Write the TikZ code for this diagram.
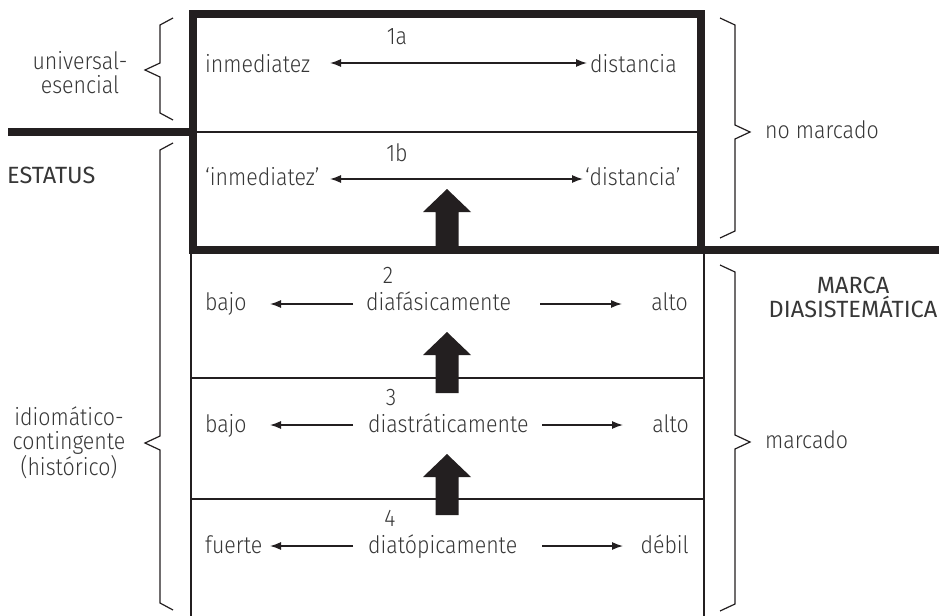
\documentclass[tikz,border=0pt]{standalone}
\usepackage{fontspec}
\setmainfont{Fira Sans Light}[FakeStretch=0.89]
\newfontfamily\headfont{Fira Sans}
\usetikzlibrary{arrows.meta}

\definecolor{ink}{RGB}{35,31,32}
\definecolor{txt}{RGB}{55,55,55}

\tikzset{
  rule/.style={line width=8pt, ink},
  thinrule/.style={line width=1.3pt, ink},
  braceline/.style={line width=1.2pt, ink, line join=miter},
  lbl/.style={inner sep=0pt, text=txt, font=\fontsize{24}{24}\selectfont},
  headlbl/.style={lbl, font=\headfont\fontsize{23.5}{24}\selectfont},
  pole/.style={line width=1.3pt, ink, -{Latex[length=11pt,width=8pt]}},
  bothpoles/.style={line width=1.3pt, ink, {Latex[length=11pt,width=8pt]}-{Latex[length=11pt,width=8pt]}},
}

% big upward arrow: #1 = axis x, #2 = foot y
\newcommand{\upshift}[2]{%
  \fill[ink] ({#1-11.5},#2) -- ({#1-11.5},{#2-38}) -- ({#1-24},{#2-38}) -- (#1,{#2-61})
     -- ({#1+24},{#2-38}) -- ({#1+11.5},{#2-38}) -- ({#1+11.5},#2) -- cycle;}

% brace: #1 = stem x, #2 = hook x, #3 = tip x, #4 = top, #5 = bottom, #6 = tip y
\newcommand{\curly}[6]{%
  \draw[braceline] (#2,#4) -- (#1,{#4+7}) -- (#1,{#6-7}) -- (#3,#6)
     -- (#1,{#6+7}) -- (#1,{#5-7}) -- (#2,#5);}

\begin{document}
\begin{tikzpicture}[x=1pt,y=-1pt]
  \useasboundingbox (0,0) rectangle (943,616);

  % lower (marked) levels
  \draw[thinrule] (191,250) -- (191,616);
  \draw[thinrule] (704,250) -- (704,616);
  \draw[thinrule] (191,378) -- (704,378);
  \draw[thinrule] (191,499) -- (704,499);
  \draw[thinrule] (193,132) -- (701,132);

  % big arrows between levels
  \upshift{447}{250}
  \upshift{447}{393}
  \upshift{447}{515}

  % unmarked box and the two borders
  \draw[rule] (193,13.5) rectangle (701,250);
  \draw[rule] (8,132) -- (193,132);
  \draw[rule] (701,250) -- (939,250);

  % 1a
  \node[lbl] (n1a) at (397,37) {1a};
  \node[lbl,anchor=base west] (inm) at (205,72) {inmediatez};
  \node[lbl,anchor=base west] (dist) at (590,72) {distancia};
  \coordinate (a1w) at (330,63);
  \coordinate (a1e) at (587,63);
  \draw[bothpoles] (a1w) -- (a1e);

  % 1b
  \node[lbl] (n1b) at (397,153) {1b};
  \node[lbl,anchor=base west] (inmq) at (205,185) {‘inmediatez’};
  \node[lbl,anchor=base west] (distq) at (585,185) {‘distancia’};
  \coordinate (b1w) at (330,179);
  \coordinate (b1e) at (583,179);
  \draw[bothpoles] (b1w) -- (b1e);

  % 2
  \node[lbl,anchor=base] (n2) at (388,283) {2};
  \node[lbl,anchor=base west] (diaf) at (366,310) {diafásicamente};
  \node[lbl,anchor=base west] (bajoa) at (205,310) {bajo};
  \node[lbl,anchor=base east] (altoa) at (688,310) {alto};
  \coordinate (l2s) at (353,304); \coordinate (l2e) at (270,304);
  \coordinate (r2s) at (540,304); \coordinate (r2e) at (622,304);
  \draw[pole] (l2s) -- (l2e);
  \draw[pole] (r2s) -- (r2e);

  % 3
  \node[lbl,anchor=base] (n3) at (391,405) {3};
  \node[lbl,anchor=base west] (diastr) at (368,432) {diastráticamente};
  \node[lbl,anchor=base west] (bajob) at (205,432) {bajo};
  \node[lbl,anchor=base east] (altob) at (689,432) {alto};
  \coordinate (l3s) at (353,425); \coordinate (l3e) at (270,425);
  \coordinate (r3s) at (542,425); \coordinate (r3e) at (623,425);
  \draw[pole] (l3s) -- (l3e);
  \draw[pole] (r3s) -- (r3e);

  % 4
  \node[lbl,anchor=base] (n4) at (390,526) {4};
  \node[lbl,anchor=base west] (diatop) at (368,553) {diatópicamente};
  \node[lbl,anchor=base west] (fuerte) at (205,553) {fuerte};
  \node[lbl,anchor=base east] (debil) at (689,553) {débil};
  \coordinate (l4s) at (353,546); \coordinate (l4e) at (270,546);
  \coordinate (r4s) at (542,546); \coordinate (r4e) at (623,546);
  \draw[pole] (l4s) -- (l4e);
  \draw[pole] (r4s) -- (r4e);

  % braces
  \curly{160}{173}{145}{18}{120}{70}
  \curly{160}{173}{145}{143}{610}{443}
  \curly{735}{720}{750}{18}{238}{132}
  \curly{735}{720}{750}{265}{611}{442}

  % side labels
  \node[lbl,align=center] (univ) at (80,73) {universal-\\esencial};
  \node[headlbl,anchor=base west] (estatus) at (7,183) {ESTATUS};
  \node[lbl,align=center] (idiom) at (69,443) {idiomático-\\contingente\\(histórico)};
  \node[lbl,anchor=base west] (nomarc) at (765,138) {no marcado};
  \node[headlbl,align=center] (marca) at (853,297) {MARCA\\DIASISTEMÁTICA};
  \node[lbl,anchor=base west] (marc) at (765,448) {marcado};
\end{tikzpicture}
\end{document}
